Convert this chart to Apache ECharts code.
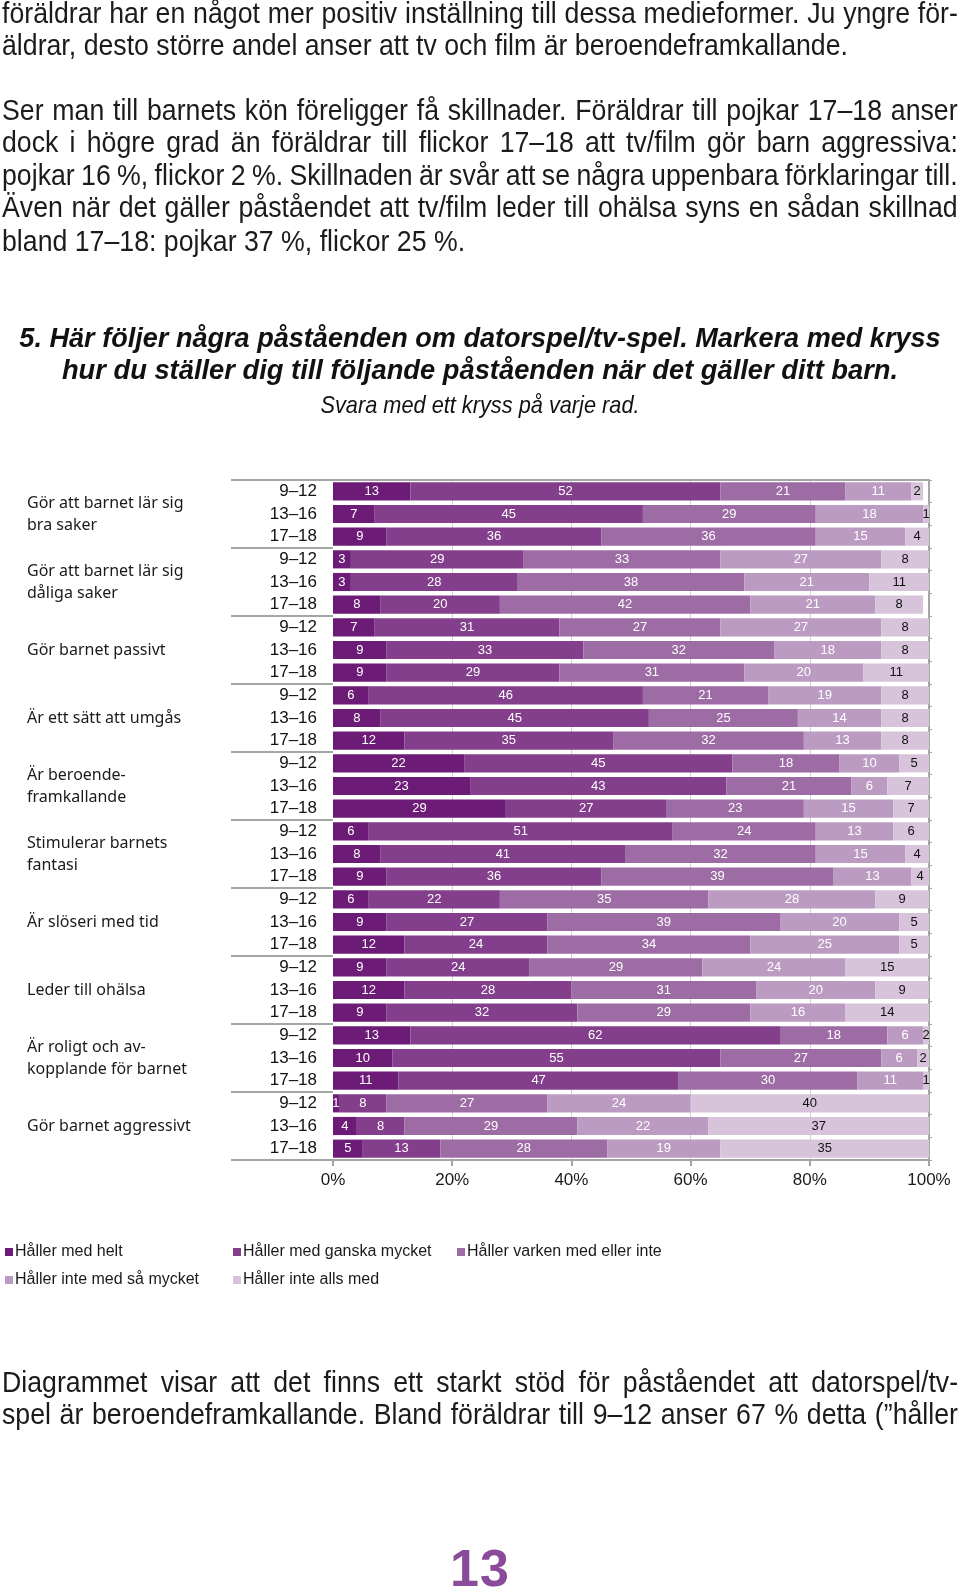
<!DOCTYPE html>
<html><head><meta charset="utf-8">
<script src="https://cdn.jsdelivr.net/npm/echarts@6/dist/echarts.min.js"></script>
<style>
html,body{margin:0;padding:0;background:#fff;}
#page{position:relative;width:960px;height:1595px;overflow:hidden;background:#fff;}
#chart{position:absolute;left:0;top:0;width:960px;height:1595px;}
.ln{position:absolute;left:2px;font-family:'Liberation Sans',Arial,sans-serif;font-size:30px;line-height:32px;color:#1b1b1b;white-space:nowrap;z-index:2;transform-origin:0 0;}
.ln span,.h span{display:inline-block;white-space:nowrap;}
.h{position:absolute;left:0;font-family:'Liberation Sans',Arial,sans-serif;font-style:italic;color:#111;white-space:nowrap;z-index:2;transform-origin:0 0;text-align:center;}
.hb{font-weight:bold;font-size:28px;line-height:32px;}
.hs{font-size:24px;line-height:28px;}
#pn{position:absolute;left:0;width:960px;text-align:center;top:1538px;font-family:'Liberation Sans',Arial,sans-serif;font-weight:bold;font-size:52px;line-height:60px;color:#8a4b9b;letter-spacing:1px;z-index:2;}
</style></head>
<body><div id="page">
<div id="chart"></div>
<div class="ln j" style="top:-3px"><span>föräldrar har en något mer positiv inställning till dessa medieformer. Ju yngre för-</span></div>
<div class="ln" style="top:29px"><span>äldrar, desto större andel anser att tv och film är beroendeframkallande.</span></div>
<div class="ln j" style="top:94px"><span>Ser man till barnets kön föreligger få skillnader. Föräldrar till pojkar 17–18 anser</span></div>
<div class="ln j" style="top:126px"><span>dock i högre grad än föräldrar till flickor 17–18 att tv/film gör barn aggressiva:</span></div>
<div class="ln j" style="top:159px"><span>pojkar 16 %, flickor 2 %. Skillnaden är svår att se några uppenbara förklaringar till.</span></div>
<div class="ln j" style="top:191px"><span>Även när det gäller påståendet att tv/film leder till ohälsa syns en sådan skillnad</span></div>
<div class="ln" style="top:225px"><span>bland 17–18: pojkar 37 %, flickor 25 %.</span></div>
<div class="h hb" data-w="921" style="top:322px"><span>5. Här följer några påståenden om datorspel/tv-spel. Markera med kryss</span></div>
<div class="h hb" data-w="836" style="top:354px"><span>hur du ställer dig till följande påståenden när det gäller ditt barn.</span></div>
<div class="h hs" data-w="319" style="top:391px"><span>Svara med ett kryss på varje rad.</span></div>
<div class="ln j" style="top:1366px"><span>Diagrammet visar att det finns ett starkt stöd för påståendet att datorspel/tv-</span></div>
<div class="ln j" style="top:1398px"><span>spel är beroendeframkallande. Bland föräldrar till 9–12 anser 67 % detta (”håller</span></div>
<div id="pn">13</div>
</div>
<script>
const ages = ['9–12', '13–16', '17–18'];
const statements = [
  'Gör att barnet lär sig\nbra saker',
  'Gör att barnet lär sig\ndåliga saker',
  'Gör barnet passivt',
  'Är ett sätt att umgås',
  'Är beroende-\nframkallande',
  'Stimulerar barnets\nfantasi',
  'Är slöseri med tid',
  'Leder till ohälsa',
  'Är roligt och av-\nkopplande för barnet',
  'Gör barnet aggressivt'
];
const seriesNames = ['Håller med helt', 'Håller med ganska mycket', 'Håller varken med eller inte', 'Håller inte med så mycket', 'Håller inte alls med'];
const helt     = [13, 7, 9,   3, 3, 8,   7, 9, 9,   6, 8, 12,  22, 23, 29,  6, 8, 9,   6, 9, 12,  9, 12, 9,   13, 10, 11,  1, 4, 5];
const ganska   = [52, 45, 36, 29, 28, 20, 31, 33, 29, 46, 45, 35, 45, 43, 27, 51, 41, 36, 22, 27, 24, 24, 28, 32, 62, 55, 47, 8, 8, 13];
const varken   = [21, 29, 36, 33, 38, 42, 27, 32, 31, 21, 25, 32, 18, 21, 23, 24, 32, 39, 35, 39, 34, 29, 31, 29, 18, 27, 30, 27, 29, 28];
const inteSa   = [11, 18, 15, 27, 21, 21, 27, 18, 20, 19, 14, 13, 10, 6, 15,  13, 15, 13, 28, 20, 25, 24, 20, 16, 6, 6, 11,  24, 22, 19];
const inteAlls = [2, 1, 4,    8, 11, 8,   8, 8, 11,   8, 8, 8,    5, 7, 7,    6, 4, 4,    9, 5, 5,    15, 9, 14,  2, 2, 1,    40, 37, 35];
const xTicks = [0, 20, 40, 60, 80, 100];

// ---- page text fitting (condensed look via horizontal scaling) ----
const BODY_SCALE = 0.89, BODY_WIDTH = 956;
document.querySelectorAll('.ln').forEach(el => {
  const span = el.firstElementChild;
  if (el.classList.contains('j')) {
    const target = BODY_WIDTH / BODY_SCALE;
    const w = span.offsetWidth;
    const spaces = (span.textContent.match(/ /g) || []).length;
    if (spaces) span.style.wordSpacing = ((target - w) / spaces) + 'px';
  }
  el.style.transform = 'scaleX(' + BODY_SCALE + ')';
});
document.querySelectorAll('.h').forEach(el => {
  const span = el.firstElementChild;
  const target = +el.dataset.w;
  const s = target / span.offsetWidth;
  el.style.width = (960 / s) + 'px';
  el.style.transform = 'scaleX(' + s + ')';
});

// ---- chart ----
const colors = ['#6c1b76', '#843f8c', '#9d6ca4', '#bc9bc2', '#d7c4da'];
const labelColors = ['#fff', '#fff', '#fff', '#fff', '#111'];
const values = [helt, ganska, varken, inteSa, inteAlls];

const rowKeys = [];
statements.forEach((s, gi) => ages.forEach(a => rowKeys.push(gi + '|' + a)));

const chart = echarts.init(document.getElementById('chart'), null, {renderer: 'canvas'});
const grey = '#a5a5a5';
const legendPos = [[5, 1244], [233, 1244], [457, 1244], [5, 1272], [233, 1272]];

const option = {
  animation: false,
  backgroundColor: 'transparent',
  color: colors,
  grid: {left: 333, right: 31, top: 480, bottom: 435},
  xAxis: [{
    type: 'value', min: xTicks[0], max: xTicks[xTicks.length - 1], interval: 20, position: 'bottom',
    axisLine: {show: true, lineStyle: {color: grey, width: 2}},
    axisTick: {show: true, length: 6, lineStyle: {color: grey, width: 2}},
    axisLabel: {formatter: '{value}%', fontFamily: 'Liberation Sans', fontSize: 17, color: '#1a1a1a', margin: 12},
    splitLine: {show: true, showMinLine: false, showMaxLine: false, lineStyle: {color: '#d2d2d2', width: 1}}
  }, {
    type: 'value', min: 0, max: 100, position: 'top',
    axisLine: {show: true, lineStyle: {color: grey, width: 2}},
    axisTick: {show: false}, axisLabel: {show: false}, splitLine: {show: false}
  }],
  yAxis: [{
    type: 'category', inverse: true, data: rowKeys, position: 'left',
    axisLine: {show: false},
    axisTick: {show: true, length: 102, interval: (i) => i % 3 === 0, lineStyle: {color: grey, width: 2}},
    axisLabel: {interval: 0, margin: 16, fontFamily: 'Liberation Sans', fontSize: 17, color: '#111',
      formatter: (v) => v.split('|')[1]}
  }, {
    type: 'category', inverse: true, data: statements, position: 'left',
    axisLine: {show: false}, axisTick: {show: false},
    axisLabel: {interval: 0, margin: 306, align: 'left', fontFamily: 'Noto Sans', fontSize: 16, lineHeight: 22, color: '#1a1a1a'}
  }, {
    type: 'category', inverse: true, data: rowKeys, position: 'right',
    axisLine: {show: true, lineStyle: {color: grey, width: 2}},
    axisTick: {show: true, length: 3, interval: 0, lineStyle: {color: grey, width: 1}},
    axisLabel: {show: false}
  }],
  legend: seriesNames.map((n, i) => ({
    data: [n], left: legendPos[i][0], top: legendPos[i][1], padding: 0,
    icon: 'rect', itemWidth: 8, itemHeight: 8, selectedMode: false,
    textStyle: {fontFamily: 'Liberation Sans', fontSize: 16, color: '#1a1a1a', padding: [0, 0, 0, -3]}
  })),
  series: seriesNames.map((n, i) => ({
    name: n, type: 'bar', stack: 'total', xAxisIndex: 0, yAxisIndex: 0,
    barCategoryGap: '20%',
    itemStyle: {color: colors[i]},
    label: {show: true, position: 'inside', color: labelColors[i], fontFamily: 'Liberation Sans', fontSize: 13, formatter: '{c}'},
    data: values[i]
  }))
};
chart.setOption(option);
</script>
</body></html>
